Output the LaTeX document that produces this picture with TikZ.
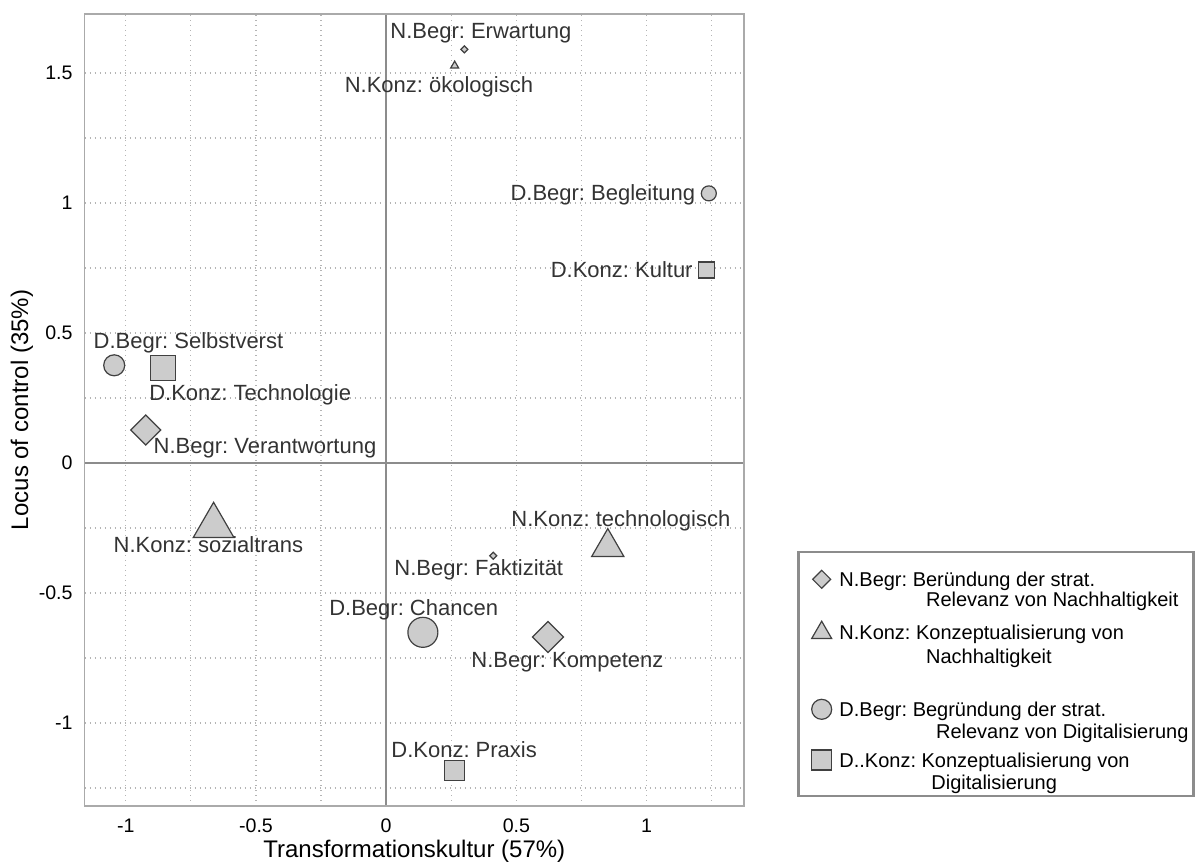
\documentclass[tikz,border=0pt]{standalone}
\usepackage{fontspec}
\setmainfont{Liberation Sans}
\usetikzlibrary{shapes.geometric}
\frenchspacing

\definecolor{ptfill}{HTML}{CCCCCC}
\definecolor{ptline}{HTML}{404040}
\definecolor{gridc}{HTML}{B4B4B4}
\definecolor{axisc}{HTML}{8C8C8C}
\definecolor{framec}{HTML}{AAAAAA}
\definecolor{labc}{HTML}{333333}

\tikzset{
  mk/.style={draw=ptline, fill=ptfill, line width=0.6pt, inner sep=0pt, outer sep=0pt},
  dia/.style={mk, diamond, minimum size=#1},
  tri/.style={mk, regular polygon, regular polygon sides=3, minimum size=#1},
  circ/.style={mk, circle, minimum size=#1},
  sq/.style={mk, rectangle, minimum size=#1},
  lab/.style={text=labc, inner sep=0pt, font=\fontsize{11}{13}\selectfont},
  ticklab/.style={inner sep=0pt, font=\fontsize{9.8}{11}\selectfont},
  leglab/.style={inner sep=0pt, anchor=base west, font=\fontsize{10}{12}\selectfont},
  gridline/.style={gridc, line width=0.6pt, dash pattern=on 0.6pt off 1.9pt}
}

\begin{document}
\begin{tikzpicture}[x=130.2pt, y=130pt]

	\useasboundingbox (-1.4831,-1.5423) rectangle (3.1060,1.7808);

	% grid
	\foreach \gx in {-1,-0.75,-0.5,-0.25,0.25,0.5,0.75,1,1.25}
		\draw[gridline] (\gx,-1.319) -- (\gx,1.727);
	\foreach \gy in {-1.25,-1,-0.75,-0.5,-0.25,0.25,0.5,0.75,1,1.25,1.5}
		\draw[gridline] (-1.158,\gy) -- (1.374,\gy);

	% axes
	\draw[axisc, line width=1pt] (0,-1.319) -- (0,1.727);
	\draw[axisc, line width=1pt] (-1.158,0) -- (1.374,0);
	\draw[framec, line width=0.8pt] (-1.158,-1.319) rectangle (1.374,1.727);

	% tick labels
	\foreach \tx/\tl in {-1/-1,-0.5/-0.5,0/0,0.5/0.5,1/1}
		\node[ticklab] (xt\tx) at (\tx,-1.396) {\tl};
	\foreach \ty/\tl in {1.5/1.5,1/1,0.5/0.5,0/0,-0.5/-0.5,-1/-1}
		\node[ticklab, anchor=east] (yt\ty) at (-1.2028,\ty) {\tl};

	\node[font=\fontsize{12}{14}\selectfont] (xtitle) at (0.108,-1.495) {Transformationskultur (57\%)};
	\node[font=\fontsize{12}{14}\selectfont, rotate=90] (ytitle) at (-1.3986,0.204) {Locus of control (35\%)};

	% points
	\node[dia=3.5pt] (erw) at (0.300,1.591) {};
	\node[tri=4.6pt] (oeko) at (0.263,1.528) {};
	\node[circ=7.5pt] (begl) at (1.239,1.037) {};
	\node[sq=8pt] (kult) at (1.231,0.742) {};
	\node[circ=10.5pt] (selb) at (-1.0445,0.3758) {};
	\node[sq=12.5pt] (techn) at (-0.8575,0.3654) {};
	\node[dia=15pt] (verant) at (-0.9232,0.1269) {};
	\node[tri=23.5pt] (sozial) at (-0.6628,-0.2415) {};
	\node[tri=18.6pt] (techl) at (0.851,-0.3238) {};
	\node[dia=3.5pt] (fakt) at (0.4113,-0.3565) {};
	\node[circ=15pt] (chanc) at (0.1409,-0.6512) {};
	\node[dia=15.5pt] (komp) at (0.6213,-0.6692) {};
	\node[sq=10pt] (prax) at (0.263,-1.1835) {};

	% labels
	\node[lab, anchor=base west] (erwlab) at (0.0146,1.6308) {N.Begr: Erwartung};
	\node[lab, anchor=base west] (oekolab) at (-0.1605,1.4231) {N.Konz: ökologisch};
	\node[lab, anchor=base east] (begllab) at (1.1882,1.0115) {D.Begr: Begleitung};
	\node[lab, anchor=base east] (kultlab) at (1.1782,0.7154) {D.Konz: Kultur};
	\node[lab, anchor=base west] (selblab) at (-1.1248,0.4423) {D.Begr: Selbstverst};
	\node[lab, anchor=base west] (technlab) at (-0.9113,0.2412) {D.Konz: Technologie};
	\node[lab, anchor=base west] (verantlab) at (-0.8944,0.0358) {N.Begr: Verantwortung};
	\node[lab, anchor=base west] (soziallab) at (-1.048,-0.3423) {N.Konz: sozialtrans};
	\node[lab, anchor=base west] (techllab) at (0.4793,-0.2435) {N.Konz: technologisch};
	\node[lab, anchor=base west] (faktlab) at (0.030,-0.4308) {N.Begr: Faktizität};
	\node[lab, anchor=base west] (chanclab) at (-0.220,-0.5858) {D.Begr: Chancen};
	\node[lab, anchor=base west] (komplab) at (0.3257,-0.7873) {N.Begr: Kompetenz};
	\node[lab, anchor=base west] (praxlab) at (0.0184,-1.1308) {D.Konz: Praxis};

	% legend
	\draw[axisc, line width=1.2pt] (1.5826,-1.2808) rectangle (3.1002,-0.3423);
	\node[dia=9pt] (legdia) at (1.6724,-0.4473) {};
	\node[tri=11.5pt] (legtri) at (1.6724,-0.6527) {};
	\node[circ=10pt] (legcirc) at (1.6724,-0.9473) {};
	\node[sq=10pt] (legsq) at (1.6724,-1.1423) {};
	\node[leglab] (leg1) at (1.7389,-0.4742) {N.Begr: Beründung der strat.};
	\node[leglab] (leg2) at (2.0718,-0.5512) {Relevanz von Nachhaltigkeit};
	\node[leglab] (leg3) at (1.7389,-0.6796) {N.Konz: Konzeptualisierung von};
	\node[leglab] (leg4) at (2.0718,-0.7719) {Nachhaltigkeit};
	\node[leglab] (leg5) at (1.7389,-0.9742) {D.Begr: Begründung der strat.};
	\node[leglab] (leg6) at (2.1102,-1.0604) {Relevanz von Digitalisierung};
	\node[leglab] (leg7) at (1.7389,-1.1692) {D..Konz: Konzeptualisierung von};
	\node[leglab] (leg8) at (2.0922,-1.2565) {Digitalisierung};

\end{tikzpicture}
\end{document}
